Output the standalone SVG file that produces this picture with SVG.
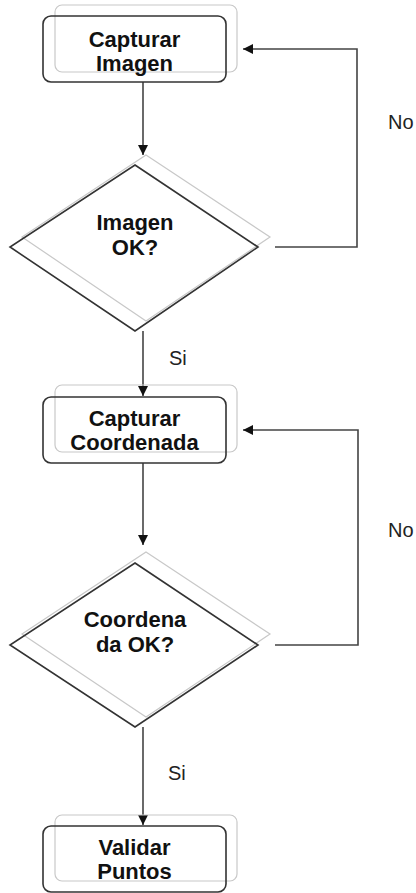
<svg xmlns="http://www.w3.org/2000/svg" width="416" height="893" viewBox="0 0 416 893">
  <style>
    .ghost { fill: none; stroke: #c8c8c8; stroke-width: 1.2; }
    .shape { fill: none; stroke: #333; stroke-width: 1.6; }
    .lbl { font-family: "Liberation Sans", Arial, sans-serif; font-size: 22px; font-weight: bold; fill: #111; text-anchor: middle; }
    .edge { fill: none; stroke: #444; stroke-width: 1.6; }
    .elbl { font-family: "Liberation Sans", Arial, sans-serif; font-size: 20px; fill: #222; }
  </style>
  <defs>
    <marker id="arrow" viewBox="0 0 10 10" refX="10" refY="5" markerWidth="10" markerHeight="10" markerUnits="userSpaceOnUse" orient="auto">
      <path d="M0,0 L10,5 L0,10 Z" fill="#111"/>
    </marker>
  </defs>
  <rect width="416" height="893" fill="#fff"/>

  <g id="connectors">
    <line class="edge" x1="143" y1="82" x2="143" y2="155" marker-end="url(#arrow)"/>
    <polyline class="edge" points="275,247 357,247 357,49 243,49" marker-end="url(#arrow)"/>
    <line class="edge" x1="143" y1="331" x2="143" y2="396" marker-end="url(#arrow)"/>
    <line class="edge" x1="143" y1="463" x2="143" y2="545" marker-end="url(#arrow)"/>
    <polyline class="edge" points="275,645 358,645 358,430 243,430" marker-end="url(#arrow)"/>
    <line class="edge" x1="143" y1="727" x2="143" y2="825" marker-end="url(#arrow)"/>
    <text class="elbl" x="388" y="129">No</text>
    <text class="elbl" x="169" y="365">Si</text>
    <text class="elbl" x="388" y="537">No</text>
    <text class="elbl" x="168" y="780">Si</text>
  </g>

  <g id="capturar-imagen">
    <rect class="ghost" x="55" y="5" width="182" height="67" rx="7"/>
    <rect class="shape" x="43" y="16" width="183" height="66" rx="8"/>
    <text class="lbl" x="134.5" y="47">Capturar</text>
    <text class="lbl" x="134.5" y="71">Imagen</text>
  </g>

  <g id="imagen-ok">
    <polygon class="ghost" points="146,155 270,237 146,321 22,237"/>
    <polygon class="shape" points="135,165 258,247 135,331 10,247"/>
    <text class="lbl" x="135" y="230">Imagen</text>
    <text class="lbl" x="135" y="255">OK?</text>
  </g>

  <g id="capturar-coordenada">
    <rect class="ghost" x="55" y="385" width="182" height="67" rx="7"/>
    <rect class="shape" x="43" y="397" width="183" height="66" rx="8"/>
    <text class="lbl" x="134.5" y="426">Capturar</text>
    <text class="lbl" x="134.5" y="450">Coordenada</text>
  </g>

  <g id="coordenada-ok">
    <polygon class="ghost" points="146,552 270,634 146,717 22,634"/>
    <polygon class="shape" points="135,563 258,645 135,727 10,645"/>
    <text class="lbl" x="135" y="627">Coordena</text>
    <text class="lbl" x="135" y="652">da OK?</text>
  </g>

  <g id="validar-puntos">
    <rect class="ghost" x="55" y="815" width="182" height="66" rx="7"/>
    <rect class="shape" x="43" y="826" width="183" height="66" rx="8"/>
    <text class="lbl" x="134.5" y="855">Validar</text>
    <text class="lbl" x="134.5" y="879">Puntos</text>
  </g>
</svg>
